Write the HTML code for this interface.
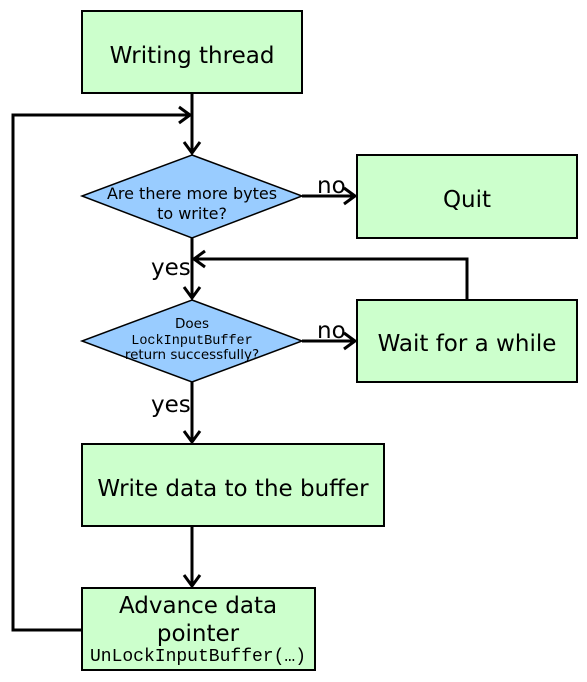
<!DOCTYPE html>
<html><head><style>
html,body{margin:0;padding:0;background:#fff;}
svg{display:block;}
text{font-family:"DejaVu Sans","Liberation Sans",sans-serif;fill:#000;}
.m{font-family:"Liberation Mono","DejaVu Sans Mono",monospace;}
</style></head><body>
<svg width="587" height="682" viewBox="0 0 587 682" xmlns="http://www.w3.org/2000/svg">
<defs>
<marker id="a" markerWidth="20" markerHeight="20" refX="14" refY="10" orient="auto" markerUnits="userSpaceOnUse">
<path d="M3,2 L14,10 L3,18" fill="none" stroke="#000" stroke-width="3"/>
</marker>
</defs>
<g fill="#ccffcc" stroke="#000" stroke-width="2">
<rect x="82" y="11" width="220" height="82"/>
<rect x="357" y="155" width="220" height="83"/>
<rect x="357" y="300" width="220" height="82"/>
<rect x="82" y="444" width="302" height="82"/>
<rect x="82" y="588" width="233" height="82"/>
</g>
<g fill="#99ccff" stroke="#000" stroke-width="1.5">
<polygon points="192,155 302,196 192,238 82,196"/>
<polygon points="192,300 302,341 192,382 82,341"/>
</g>
<g stroke="#000" stroke-width="3" fill="none">
<line x1="192" y1="93" x2="192" y2="153"  marker-end="url(#a)"/>
<polyline points="82,630 13,630 13,115 190,115" marker-end="url(#a)"/>
<line x1="302" y1="196" x2="355" y2="196" marker-end="url(#a)"/>
<line x1="192" y1="238" x2="192" y2="298" marker-end="url(#a)"/>
<polyline points="467,300 467,259 194,259" marker-end="url(#a)"/>
<line x1="302" y1="341" x2="355" y2="341" marker-end="url(#a)"/>
<line x1="192" y1="382" x2="192" y2="442" marker-end="url(#a)"/>
<line x1="192" y1="526" x2="192" y2="586" marker-end="url(#a)"/>
</g>
<g font-size="23" text-anchor="middle">
<text x="192" y="63">Writing thread</text>
<text x="467" y="207">Quit</text>
<text x="467" y="351">Wait for a while</text>
<text x="233" y="496">Write data to the buffer</text>
<text x="198" y="613">Advance data</text>
<text x="198" y="641">pointer</text>
</g>
<text class="m" x="198" y="661" font-size="18" text-anchor="middle">UnLockInputBuffer(…)</text>
<g font-size="16" text-anchor="middle">
<text x="192" y="199">Are there more bytes</text>
<text x="192" y="219">to write?</text>
<text x="192" y="328" font-size="13.5">Does</text>
<text class="m" x="192" y="344" font-size="13.5">LockInputBuffer</text>
<text x="192" y="359" font-size="13.5">return successfully?</text>
</g>
<g font-size="23">
<text x="317" y="193">no</text>
<text x="317" y="338">no</text>
<text x="151" y="275">yes</text>
<text x="151" y="412">yes</text>
</g>
</svg>
</body></html>
